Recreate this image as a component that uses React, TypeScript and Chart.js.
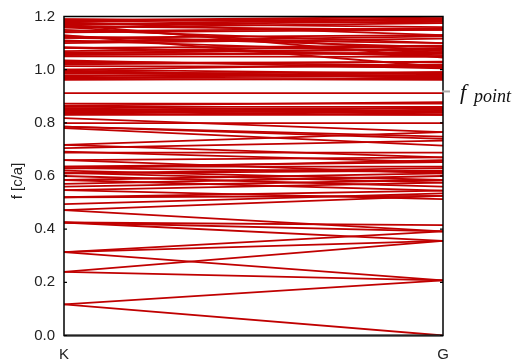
import React, { useEffect, useRef } from "react";
import { Chart, registerables } from "chart.js";

Chart.register(...registerables);

// Band frequencies (c/a) at the K point and at the G point, band by band
const bandK = [
  0.117, 0.117, 0.239, 0.239, 0.314, 0.314, 0.314, 0.425, 0.425, 0.425,
  0.472, 0.472, 0.494, 0.52, 0.52, 0.547, 0.547, 0.56, 0.585, 0.585,
  0.61, 0.62, 0.635, 0.635, 0.66, 0.66, 0.688, 0.692, 0.705, 0.717,
  0.717, 0.78, 0.786, 0.786, 0.799, 0.818, 0.83, 0.84, 0.85, 0.86,
  0.872, 0.865, 0.912, 0.962, 0.97, 0.978, 0.985, 0.992, 1.0, 1.013,
  1.02, 1.031, 1.05, 1.058, 1.064, 1.082, 1.082, 1.1, 1.11, 1.12,
  1.126, 1.145, 1.15, 1.158, 1.163, 1.17, 1.178, 1.185, 1.189, 1.16,
  1.17, 1.13, 1.0, 0.995, 0.966, 0.836, 0.846, 0.855, 0.612, 0.628,
  0.965, 0.975, 0.988, 0.996, 0.84, 0.862, 0.832, 0.845, 1.19, 1.18,
  1.168, 1.175, 1.06, 1.085, 1.07, 1.055, 0.61, 0.63, 0.6, 0.57,
  1.105, 1.12, 1.14, 1.025, 1.035,
];
const bandG = [
  0.0, 0.207, 0.207, 0.356, 0.207, 0.356, 0.392, 0.356, 0.392, 0.415,
  0.392, 0.525, 0.535, 0.525, 0.545, 0.513, 0.575, 0.585, 0.545, 0.61,
  0.62, 0.585, 0.652, 0.635, 0.61, 0.67, 0.688, 0.652, 0.733, 0.765,
  0.67, 0.714, 0.748, 0.74, 0.799, 0.765, 0.83, 0.845, 0.855, 0.86,
  0.872, 0.878, 0.912, 0.966, 0.975, 0.98, 0.991, 0.97, 0.985, 1.01,
  1.03, 1.015, 1.048, 1.06, 1.075, 1.09, 1.055, 1.117, 1.065, 1.13,
  1.085, 1.155, 1.1, 1.175, 1.15, 1.19, 1.13, 1.199, 1.185, 1.07,
  1.045, 1.01, 1.02, 0.97, 0.99, 0.85, 0.84, 0.832, 0.575, 0.66,
  0.962, 0.99, 0.975, 0.968, 0.83, 0.84, 0.858, 0.838, 1.175, 1.193,
  1.182, 1.16, 1.08, 1.05, 1.088, 1.065, 0.63, 0.615, 0.56, 0.6,
  1.125, 1.1, 1.15, 1.028, 1.005,
];
const yTicks = [0, 0.2, 0.4, 0.6, 0.8, 1.0, 1.2];
const xTickLabels = ["K", "G"];
const fPoint = 0.918;

const RED = "#c00000";

export default function App() {
  const ref = useRef<HTMLCanvasElement | null>(null);

  useEffect(() => {
    if (!ref.current) return;
    const datasets = bandK.map((k, i) => ({
      data: [
        { x: 0, y: k },
        { x: 1, y: bandG[i] },
      ],
      borderColor: RED,
      borderWidth: 1.8,
      pointRadius: 0,
      fill: false,
      tension: 0,
    }));

    const framePlugin = {
      id: "frame",
      afterDraw(chart: any) {
        const { ctx, chartArea } = chart;
        const { left, right, top, bottom } = chartArea;
        const ys = chart.scales.y;
        ctx.save();
        ctx.strokeStyle = "#000";
        ctx.lineWidth = 1.5;
        ctx.strokeRect(left, top, right - left, bottom - top);
        ctx.lineWidth = 2;
        ctx.strokeStyle = "#222";
        ctx.beginPath();
        ctx.moveTo(left, bottom);
        ctx.lineTo(right, bottom);
        ctx.stroke();
        ctx.lineWidth = 1.2;
        ctx.strokeStyle = "#000";
        yTicks.forEach((v) => {
          const y = ys.getPixelForValue(v);
          ctx.beginPath();
          ctx.moveTo(left, y);
          ctx.lineTo(left + 3, y);
          ctx.moveTo(right, y);
          ctx.lineTo(right - 3, y);
          ctx.stroke();
        });
        // y tick labels
        ctx.fillStyle = "#222";
        ctx.font = "15px 'Liberation Sans', Arial, sans-serif";
        ctx.textAlign = "right";
        ctx.textBaseline = "middle";
        yTicks.forEach((v) => {
          ctx.fillText(v.toFixed(1), left - 9, ys.getPixelForValue(v));
        });
        // f_point marker
        const fy = ys.getPixelForValue(fPoint);
        ctx.strokeStyle = "#aaaaaa";
        ctx.lineWidth = 2;
        ctx.beginPath();
        ctx.moveTo(right - 1, fy);
        ctx.lineTo(right + 7, fy);
        ctx.stroke();
        ctx.fillStyle = "#111";
        ctx.textAlign = "left";
        ctx.textBaseline = "alphabetic";
        ctx.font = "italic 22px 'Liberation Serif', 'DejaVu Serif', serif";
        ctx.fillText("f", right + 17, fy + 8);
        ctx.font = "italic 18px 'Liberation Serif', 'DejaVu Serif', serif";
        ctx.fillText("point", right + 31, fy + 11);
        // y axis title
        ctx.save();
        ctx.translate(18, 181);
        ctx.rotate(-Math.PI / 2);
        ctx.textAlign = "center";
        ctx.textBaseline = "middle";
        ctx.font = "15px 'Liberation Sans', Arial, sans-serif";
        ctx.fillStyle = "#222";
        ctx.fillText("f [c/a]", 0, 0);
        ctx.restore();
        ctx.restore();
      },
    };

    const chart = new Chart(ref.current, {
      type: "line",
      data: { datasets },
      options: {
        animation: false,
        responsive: false,
        maintainAspectRatio: false,
        layout: { padding: { left: 0, right: 70, top: 16.5, bottom: 0 } },
        plugins: {
          legend: { display: false },
          tooltip: { enabled: false },
          title: { display: false },
        },
        scales: {
          x: {
            type: "linear",
            min: 0,
            max: 1,
            grid: { display: false },
            border: { display: false },
            afterBuildTicks: (scale: any) => {
              scale.ticks = [{ value: 0 }, { value: 1 }];
            },
            afterFit: (scale: any) => {
              scale.height = 27.5;
            },
            ticks: {
              padding: 2,
              maxRotation: 0,
              autoSkip: false,
              color: "#222",
              font: { size: 15, family: "'Liberation Sans', Arial, sans-serif" },
              callback: (v: any) => (Number(v) === 0 ? xTickLabels[0] : xTickLabels[1]),
            },
          },
          y: {
            type: "linear",
            min: 0,
            max: 1.2,
            grid: { display: false },
            border: { display: false },
            afterBuildTicks: (scale: any) => {
              scale.ticks = yTicks.map((v) => ({ value: v }));
            },
            afterFit: (scale: any) => {
              scale.width = 64;
            },
            ticks: {
              display: false,
            },
          },
        },
      },
      plugins: [framePlugin],
    });
    return () => chart.destroy();
  }, []);

  return (
    <div style={{ position: "absolute", left: 0, top: 0, width: 513, height: 363, background: "#fff" }}>
      <canvas ref={ref} width={513} height={363} style={{ width: 513, height: 363 }} />
    </div>
  );
}
